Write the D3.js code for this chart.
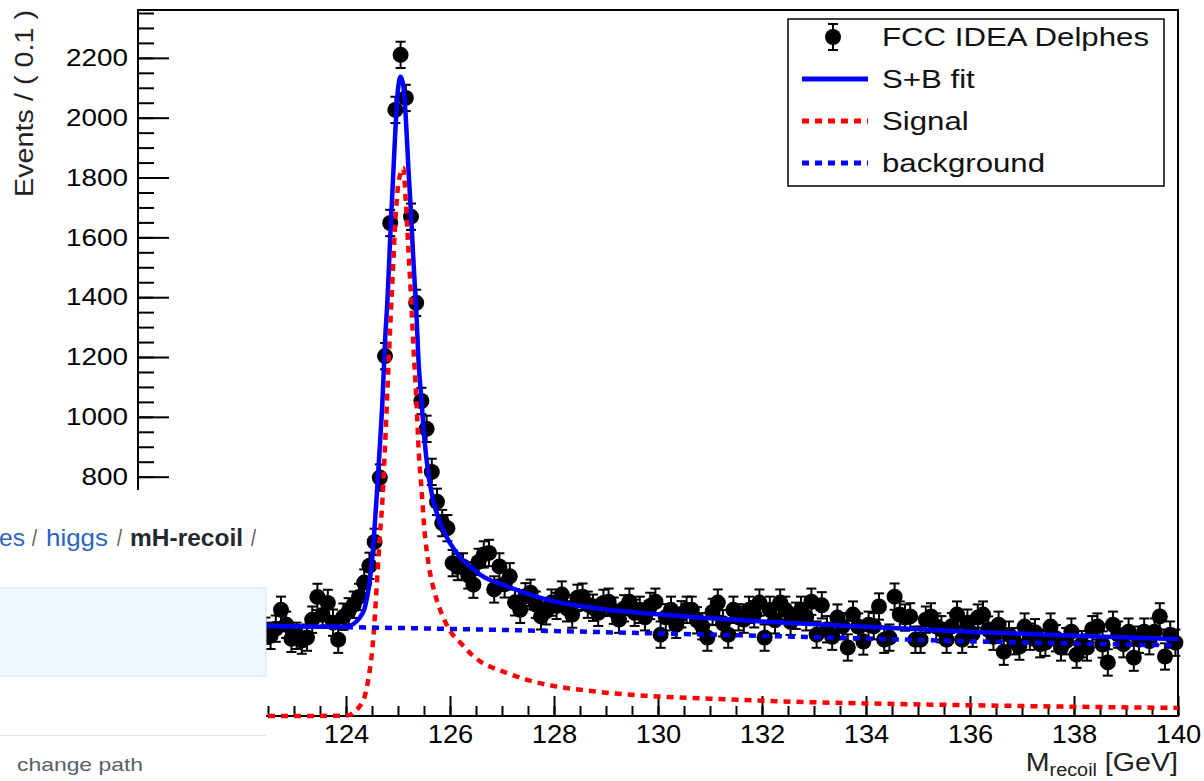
<!DOCTYPE html>
<html>
<head>
<meta charset="utf-8">
<script src="https://cdn.jsdelivr.net/npm/d3@7"></script>
<style>
  html, body { margin: 0; padding: 0; background: #fff; }
  svg { display: block; }
</style>
</head>
<body>
<svg id="chart" width="1204" height="781"></svg>
<script>
// values (visible bins only, 0.1 GeV wide)
const binStart = 122.45;
const binWidth = 0.1;
const binError = 44;
const counts = [
  285, 268, 292, 355, 305, 258, 268, 252, 262, 322,
  398, 338, 378, 312, 255, 332, 350, 372, 398, 446,
  502, 582, 797, 1203, 1648, 2026, 2210, 2066, 1669, 1381,
  1053, 960, 816, 716, 645, 628, 511, 498, 500, 470,
  439, 515, 540, 545, 423, 500, 440, 467, 380, 355,
  400, 412, 372, 333, 350, 379, 368, 406, 360, 339,
  395, 399, 372, 362, 345, 378, 382, 352, 322, 360,
  382, 345, 355, 330, 368, 382, 272, 330, 355, 305,
  340, 355, 355, 320, 300, 262, 348, 379, 310, 272,
  355, 330, 322, 355, 340, 379, 262, 355, 320, 379,
  355, 315, 335, 355, 330, 382, 272, 370, 290, 265,
  329, 300, 229, 339, 299, 249, 305, 300, 366, 255,
  262, 399, 339, 329, 333, 255, 255, 322, 333, 299,
  290, 255, 300, 339, 255, 312, 275, 329, 339, 289,
  265, 305, 215, 272, 250, 232, 299, 265, 280, 240,
  245, 299, 260, 229, 250, 282, 205, 240, 229, 290,
  299, 239, 179, 305, 272, 240, 282, 195, 255, 282,
  250, 282, 333, 199, 272, 245
];

// fitted curves
const curveMass = [
  120, 123, 123.8, 124.0, 124.1, 124.2, 124.3, 124.35, 124.4, 124.45,
  124.5, 124.55, 124.6, 124.65, 124.7, 124.75, 124.8, 124.85, 124.9, 124.95,
  125.0, 125.05, 125.1, 125.15, 125.2, 125.25, 125.3, 125.35, 125.4, 125.45,
  125.5, 125.6, 125.7, 125.8, 125.9, 126.0, 126.2, 126.4, 126.6, 126.8,
  127.0, 127.5, 128, 128.5, 129, 130, 131, 132, 134, 136,
  138, 140
];
const signalEvents = [
  0, 0, 1, 2, 6, 20, 42, 60, 95, 145,
  212, 320, 460, 600, 720, 900, 1100, 1300, 1480, 1660,
  1770, 1815, 1832, 1720, 1560, 1400, 1220, 1070, 880, 765,
  640, 495, 415, 360, 318, 285, 245, 208, 180, 163,
  150, 120, 100, 88, 78, 65, 58, 51, 42, 36,
  31, 27
];
const fitEvents = [
  306, 300, 298, 298, 303, 316, 338, 356, 392, 442,
  520, 630, 760, 900, 1050, 1250, 1400, 1600, 1780, 1960,
  2095, 2137, 2110, 2000, 1830, 1680, 1510, 1360, 1170, 1060,
  940, 790, 705, 650, 610, 578, 530, 498, 470, 452,
  440, 408, 383, 368, 356, 340, 327, 316, 298, 282,
  268, 257
];
const bkgMass = [120, 122, 124, 126, 128, 130, 132, 134, 136, 138, 140];
const bkgEvents = [306, 302, 297, 291, 284, 276, 268, 259, 250, 242, 236];

const xTicks = d3.range(120, 141, 2);
const yTicks = d3.range(0, 2201, 200);
const legendItems = ["FCC IDEA Delphes", "S+B fit", "Signal", "background"];

const FONT = "'Liberation Sans', Arial, Helvetica, sans-serif";
const frame = {left: 138, right: 1178, top: 10, bottom: 716};
// lower left corner is hidden by a pasted page fragment
const cover = {right: 266, top: 490};

const svg = d3.select("#chart");
const x = d3.scaleLinear().domain([120, 140]).range([frame.left, frame.right]);
const y = d3.scaleLinear().domain([0, 2360]).range([frame.bottom, frame.top]);

// widen text a bit, the original picture is stretched sideways
function stretch(sel, k) {
  sel.each(function() {
    const w = this.getComputedTextLength();
    d3.select(this).attr("textLength", w * k).attr("lengthAdjust", "spacingAndGlyphs");
  });
}

// axes (ticks point inwards, ROOT style)
svg.append("g")
  .attr("transform", `translate(0,${frame.bottom})`)
  .call(d3.axisBottom(x).tickValues(d3.range(120, 140.01, 0.5)).tickSize(-10).tickFormat(""))
  .call(g => g.select(".domain").remove())
  .selectAll("line").attr("stroke-width", 2);

const xAxis = svg.append("g")
  .attr("transform", `translate(0,${frame.bottom})`)
  .call(d3.axisBottom(x).tickValues(xTicks).tickSize(-20).tickPadding(9).tickFormat(d3.format("d")));
xAxis.select(".domain").remove();
xAxis.selectAll("line").attr("stroke-width", 2);
xAxis.selectAll(".tick").filter(d => x(d) < cover.right).select("text").remove();
xAxis.selectAll("text").attr("font-size", 26).attr("font-family", FONT).attr("fill", "#000")
  .call(stretch, 1.05);

svg.append("g")
  .attr("transform", `translate(${frame.left},0)`)
  .call(d3.axisLeft(y).tickValues(d3.range(0, 2360, 50)).tickSize(-16).tickFormat(""))
  .call(g => g.select(".domain").remove())
  .selectAll("line").attr("stroke-width", 2);

const yAxis = svg.append("g")
  .attr("transform", `translate(${frame.left},0)`)
  .call(d3.axisLeft(y).tickValues(yTicks).tickSize(-31).tickPadding(10).tickFormat(d3.format("d")));
yAxis.select(".domain").remove();
yAxis.selectAll("line").attr("stroke-width", 2);
yAxis.selectAll(".tick").filter(d => y(d) > cover.top).select("text").remove();
yAxis.selectAll("text").attr("font-size", 24).attr("font-family", FONT).attr("fill", "#000")
  .call(stretch, 1.16);

svg.append("rect")
  .attr("x", frame.left).attr("y", frame.top)
  .attr("width", frame.right - frame.left).attr("height", frame.bottom - frame.top)
  .attr("fill", "none").attr("stroke", "#000").attr("stroke-width", 2);

// axis titles
svg.append("text")
  .attr("transform", `translate(33,${frame.top}) rotate(-90)`)
  .attr("text-anchor", "end")
  .attr("font-family", FONT).attr("font-size", 25).attr("fill", "#222")
  .attr("textLength", 187).attr("lengthAdjust", "spacingAndGlyphs")
  .text("Events / ( 0.1 )");

const xTitle = svg.append("text")
  .attr("x", frame.right).attr("y", 771)
  .attr("text-anchor", "end")
  .attr("font-family", FONT).attr("font-size", 26).attr("fill", "#222");
xTitle.append("tspan").text("M");
xTitle.append("tspan").attr("font-size", 18).attr("dy", 5).text("recoil");
xTitle.append("tspan").attr("dy", -5).text(" [GeV]");
xTitle.call(stretch, 1.1);

// data points with error bars
const points = counts.map((v, i) => ({m: binStart + i * binWidth, v}));
const pts = svg.append("g");
pts.selectAll("line.err").data(points).join("line")
  .attr("x1", d => x(d.m)).attr("x2", d => x(d.m))
  .attr("y1", d => y(d.v - binError)).attr("y2", d => y(d.v + binError))
  .attr("stroke", "#000").attr("stroke-width", 2);
["top", "bottom"].forEach(side => {
  pts.selectAll("line.cap-" + side).data(points).join("line")
    .attr("class", "cap-" + side)
    .attr("x1", d => x(d.m) - 5).attr("x2", d => x(d.m) + 5)
    .attr("y1", d => y(side === "top" ? d.v + binError : d.v - binError))
    .attr("y2", d => y(side === "top" ? d.v + binError : d.v - binError))
    .attr("stroke", "#000").attr("stroke-width", 2);
});
pts.selectAll("circle").data(points).join("circle")
  .attr("cx", d => x(d.m)).attr("cy", d => y(d.v)).attr("r", 8).attr("fill", "#000");

// curves
const line = d3.line().x(d => x(d[0])).y(d => y(d[1])).curve(d3.curveMonotoneX);
svg.append("path").datum(d3.zip(curveMass, fitEvents)).attr("d", line)
  .attr("fill", "none").attr("stroke", "#0000ff").attr("stroke-width", 4.5);
svg.append("path").datum(d3.zip(curveMass, signalEvents)).attr("d", line)
  .attr("fill", "none").attr("stroke", "#ff0000").attr("stroke-width", 4.5).attr("stroke-dasharray", "7,6");
svg.append("path").datum(d3.zip(bkgMass, bkgEvents)).attr("d", line)
  .attr("fill", "none").attr("stroke", "#0000ff").attr("stroke-width", 4.5).attr("stroke-dasharray", "7,6");

// legend
const lg = svg.append("g");
lg.append("rect").attr("x", 788).attr("y", 19).attr("width", 376).attr("height", 167)
  .attr("fill", "#fff").attr("stroke", "#000").attr("stroke-width", 1.5);
const rowY = d3.scalePoint().domain(legendItems).range([37, 163]);
const r0 = rowY(legendItems[0]);
lg.append("line").attr("x1", 833).attr("x2", 833).attr("y1", r0 - 13).attr("y2", r0 + 13)
  .attr("stroke", "#000").attr("stroke-width", 2);
[r0 - 13, r0 + 13].forEach(cy => lg.append("line").attr("x1", 828).attr("x2", 838)
  .attr("y1", cy).attr("y2", cy).attr("stroke", "#000").attr("stroke-width", 2));
lg.append("circle").attr("cx", 833).attr("cy", r0).attr("r", 8).attr("fill", "#000");
lg.append("line").attr("x1", 802).attr("x2", 868).attr("y1", rowY("S+B fit")).attr("y2", rowY("S+B fit"))
  .attr("stroke", "#0000ff").attr("stroke-width", 5);
lg.append("line").attr("x1", 802).attr("x2", 868).attr("y1", rowY("Signal")).attr("y2", rowY("Signal"))
  .attr("stroke", "#ff0000").attr("stroke-width", 5).attr("stroke-dasharray", "7,6");
lg.append("line").attr("x1", 802).attr("x2", 868).attr("y1", rowY("background")).attr("y2", rowY("background"))
  .attr("stroke", "#0000ff").attr("stroke-width", 5).attr("stroke-dasharray", "7,6");
lg.selectAll("text.item").data(legendItems).join("text")
  .attr("x", 882).attr("y", d => rowY(d)).attr("dy", "0.36em")
  .attr("font-family", FONT).attr("font-size", 26).attr("fill", "#111")
  .text(d => d)
  .call(stretch, 1.2);

// the web page fragment pasted over the lower left corner
const ov = svg.append("g");
ov.append("rect").attr("x", 0).attr("y", cover.top).attr("width", cover.right).attr("height", 781 - cover.top).attr("fill", "#fff");
ov.append("rect").attr("x", -2).attr("y", 588).attr("width", cover.right + 2).attr("height", 88)
  .attr("fill", "#f1f8ff").attr("stroke", "#c8e1ff").attr("stroke-width", 1);
ov.append("line").attr("x1", 0).attr("x2", cover.right).attr("y1", 735.5).attr("y2", 735.5)
  .attr("stroke", "#e1e4e8").attr("stroke-width", 1);
const crumbs = [
  {t: "es", x: -1, w: 26, c: "#2a64c0", b: false},
  {t: "/", x: 32, w: 5, c: "#555", b: false},
  {t: "higgs", x: 46, w: 62, c: "#2a64c0", b: false},
  {t: "/", x: 117, w: 5, c: "#555", b: false},
  {t: "mH-recoil", x: 130, w: 113, c: "#24292e", b: true},
  {t: "/", x: 251, w: 5, c: "#555", b: false}
];
ov.selectAll("text.crumb").data(crumbs).join("text")
  .attr("x", d => d.x).attr("y", 546).attr("textLength", d => d.w).attr("lengthAdjust", "spacingAndGlyphs")
  .attr("font-family", FONT).attr("font-size", 24)
  .attr("font-weight", d => d.b ? "bold" : "normal").attr("fill", d => d.c)
  .text(d => d.t);
ov.append("text").attr("x", 17).attr("y", 771)
  .attr("textLength", 126).attr("lengthAdjust", "spacingAndGlyphs")
  .attr("font-family", FONT).attr("font-size", 19).attr("fill", "#586069")
  .text("change path");
</script>
</body>
</html>
